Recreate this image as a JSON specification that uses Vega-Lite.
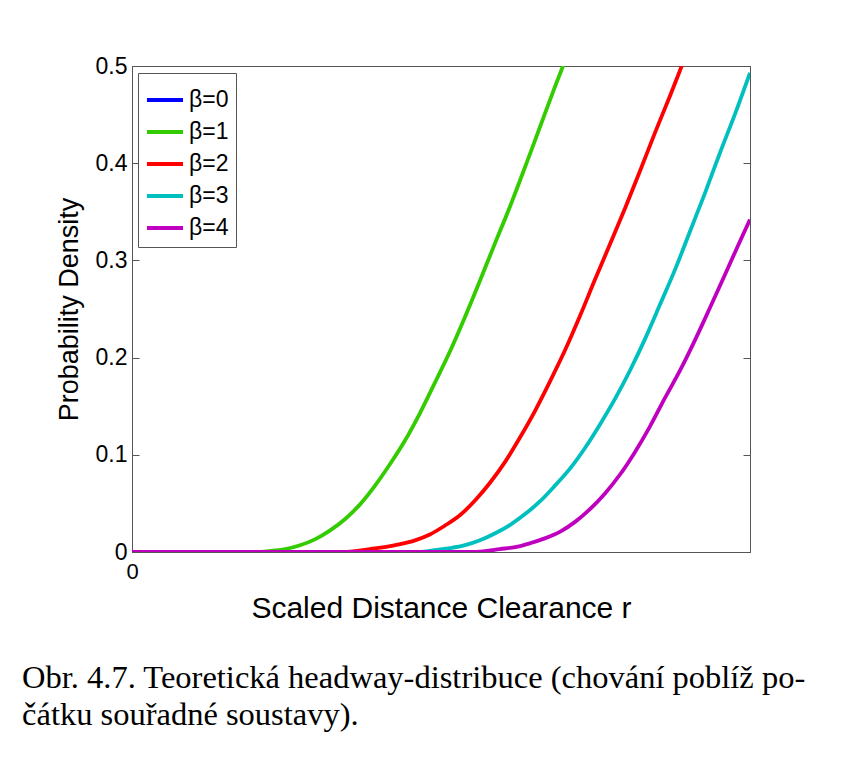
{
  "$schema": "https://vega.github.io/schema/vega-lite/v6.json",
  "width": 618,
  "height": 486,
  "autosize": {"type": "none"},
  "padding": {"left": 132, "top": 66, "right": 97, "bottom": 206},
  "background": "white",
  "config": {
    "view": {"stroke": "#555555", "strokeWidth": 1},
    "font": "Liberation Sans",
    "axis": {"domainColor": "#555555", "tickColor": "#555555", "labelColor": "black", "titleColor": "black", "grid": false}
  },
  "title": {
    "text": ["Obr. 4.7. Teoretická headway-distribuce (chování poblíž po-", "čátku souřadné soustavy)."],
    "orient": "bottom",
    "anchor": "start",
    "dx": -33,
    "offset": 39,
    "font": "Liberation Serif",
    "fontSize": 32.5,
    "fontWeight": "normal",
    "lineHeight": 37,
    "color": "black"
  },
  "data": {
    "values": [
      {"r": 0.000, "p": 0, "beta": "β=1"},
      {"r": 0.150, "p": 0, "beta": "β=1"},
      {"r": 0.199, "p": 0.000, "beta": "β=1"},
      {"r": 0.223, "p": 0.001, "beta": "β=1"},
      {"r": 0.248, "p": 0.003, "beta": "β=1"},
      {"r": 0.272, "p": 0.007, "beta": "β=1"},
      {"r": 0.296, "p": 0.013, "beta": "β=1"},
      {"r": 0.320, "p": 0.022, "beta": "β=1"},
      {"r": 0.345, "p": 0.034, "beta": "β=1"},
      {"r": 0.369, "p": 0.049, "beta": "β=1"},
      {"r": 0.393, "p": 0.068, "beta": "β=1"},
      {"r": 0.417, "p": 0.090, "beta": "β=1"},
      {"r": 0.442, "p": 0.115, "beta": "β=1"},
      {"r": 0.466, "p": 0.143, "beta": "β=1"},
      {"r": 0.490, "p": 0.174, "beta": "β=1"},
      {"r": 0.515, "p": 0.207, "beta": "β=1"},
      {"r": 0.539, "p": 0.242, "beta": "β=1"},
      {"r": 0.563, "p": 0.279, "beta": "β=1"},
      {"r": 0.587, "p": 0.317, "beta": "β=1"},
      {"r": 0.612, "p": 0.356, "beta": "β=1"},
      {"r": 0.636, "p": 0.396, "beta": "β=1"},
      {"r": 0.660, "p": 0.437, "beta": "β=1"},
      {"r": 0.684, "p": 0.478, "beta": "β=1"},
      {"r": 0.709, "p": 0.519, "beta": "β=1"},
      {"r": 0.733, "p": 0.560, "beta": "β=1"},

      {"r": 0.000, "p": 0, "beta": "β=2"},
      {"r": 0.250, "p": 0, "beta": "β=2"},
      {"r": 0.337, "p": 0.000, "beta": "β=2"},
      {"r": 0.361, "p": 0.001, "beta": "β=2"},
      {"r": 0.385, "p": 0.003, "beta": "β=2"},
      {"r": 0.409, "p": 0.005, "beta": "β=2"},
      {"r": 0.434, "p": 0.008, "beta": "β=2"},
      {"r": 0.458, "p": 0.012, "beta": "β=2"},
      {"r": 0.482, "p": 0.018, "beta": "β=2"},
      {"r": 0.506, "p": 0.027, "beta": "β=2"},
      {"r": 0.531, "p": 0.038, "beta": "β=2"},
      {"r": 0.555, "p": 0.053, "beta": "β=2"},
      {"r": 0.579, "p": 0.071, "beta": "β=2"},
      {"r": 0.604, "p": 0.093, "beta": "β=2"},
      {"r": 0.628, "p": 0.118, "beta": "β=2"},
      {"r": 0.652, "p": 0.145, "beta": "β=2"},
      {"r": 0.676, "p": 0.175, "beta": "β=2"},
      {"r": 0.701, "p": 0.208, "beta": "β=2"},
      {"r": 0.725, "p": 0.243, "beta": "β=2"},
      {"r": 0.749, "p": 0.280, "beta": "β=2"},
      {"r": 0.773, "p": 0.316, "beta": "β=2"},
      {"r": 0.798, "p": 0.354, "beta": "β=2"},
      {"r": 0.822, "p": 0.392, "beta": "β=2"},
      {"r": 0.846, "p": 0.431, "beta": "β=2"},
      {"r": 0.871, "p": 0.470, "beta": "β=2"},
      {"r": 0.895, "p": 0.509, "beta": "β=2"},
      {"r": 0.919, "p": 0.548, "beta": "β=2"},

      {"r": 0.000, "p": 0, "beta": "β=3"},
      {"r": 0.350, "p": 0, "beta": "β=3"},
      {"r": 0.466, "p": 0.000, "beta": "β=3"},
      {"r": 0.490, "p": 0.002, "beta": "β=3"},
      {"r": 0.515, "p": 0.004, "beta": "β=3"},
      {"r": 0.539, "p": 0.007, "beta": "β=3"},
      {"r": 0.563, "p": 0.012, "beta": "β=3"},
      {"r": 0.587, "p": 0.019, "beta": "β=3"},
      {"r": 0.612, "p": 0.028, "beta": "β=3"},
      {"r": 0.636, "p": 0.039, "beta": "β=3"},
      {"r": 0.660, "p": 0.052, "beta": "β=3"},
      {"r": 0.684, "p": 0.068, "beta": "β=3"},
      {"r": 0.709, "p": 0.086, "beta": "β=3"},
      {"r": 0.733, "p": 0.107, "beta": "β=3"},
      {"r": 0.757, "p": 0.131, "beta": "β=3"},
      {"r": 0.782, "p": 0.158, "beta": "β=3"},
      {"r": 0.806, "p": 0.187, "beta": "β=3"},
      {"r": 0.830, "p": 0.219, "beta": "β=3"},
      {"r": 0.854, "p": 0.254, "beta": "β=3"},
      {"r": 0.879, "p": 0.291, "beta": "β=3"},
      {"r": 0.903, "p": 0.330, "beta": "β=3"},
      {"r": 0.927, "p": 0.369, "beta": "β=3"},
      {"r": 0.951, "p": 0.410, "beta": "β=3"},
      {"r": 0.976, "p": 0.451, "beta": "β=3"},
      {"r": 1.000, "p": 0.493, "beta": "β=3"},

      {"r": 0.000, "p": 0, "beta": "β=4"},
      {"r": 0.450, "p": 0, "beta": "β=4"},
      {"r": 0.547, "p": 0.000, "beta": "β=4"},
      {"r": 0.571, "p": 0.001, "beta": "β=4"},
      {"r": 0.595, "p": 0.003, "beta": "β=4"},
      {"r": 0.620, "p": 0.005, "beta": "β=4"},
      {"r": 0.644, "p": 0.009, "beta": "β=4"},
      {"r": 0.668, "p": 0.014, "beta": "β=4"},
      {"r": 0.693, "p": 0.021, "beta": "β=4"},
      {"r": 0.717, "p": 0.031, "beta": "β=4"},
      {"r": 0.741, "p": 0.044, "beta": "β=4"},
      {"r": 0.765, "p": 0.060, "beta": "β=4"},
      {"r": 0.790, "p": 0.080, "beta": "β=4"},
      {"r": 0.814, "p": 0.103, "beta": "β=4"},
      {"r": 0.838, "p": 0.129, "beta": "β=4"},
      {"r": 0.862, "p": 0.158, "beta": "β=4"},
      {"r": 0.887, "p": 0.187, "beta": "β=4"},
      {"r": 0.911, "p": 0.218, "beta": "β=4"},
      {"r": 0.935, "p": 0.251, "beta": "β=4"},
      {"r": 0.960, "p": 0.286, "beta": "β=4"},
      {"r": 0.984, "p": 0.320, "beta": "β=4"},
      {"r": 1.000, "p": 0.342, "beta": "β=4"}
    ]
  },
  "layer": [
    {
      "mark": {"type": "line", "strokeWidth": 3.8, "clip": true, "interpolate": "monotone"},
      "encoding": {
        "x": {
          "field": "r", "type": "quantitative",
          "scale": {"domain": [0, 1], "nice": false, "zero": false},
          "axis": {
            "title": "Scaled Distance Clearance r",
            "titleFontSize": 30, "titleFontWeight": "normal", "titlePadding": 11,
            "values": [0], "format": "~g", "labelFontSize": 22, "labelPadding": 9,
            "ticks": false, "labelFlush": false
          }
        },
        "y": {
          "field": "p", "type": "quantitative",
          "scale": {"domain": [0, 0.5], "nice": false, "zero": false},
          "axis": {
            "title": "Probability Density",
            "titleFontSize": 27, "titleFontWeight": "normal", "titlePadding": 12,
            "values": [0, 0.1, 0.2, 0.3, 0.4, 0.5], "format": "~g",
            "labelFontSize": 23, "tickSize": -7, "labelPadding": 12, "labelFlush": false
          }
        },
        "color": {
          "field": "beta", "type": "nominal",
          "scale": {"domain": ["β=0", "β=1", "β=2", "β=3", "β=4"], "range": ["#0000ff", "#33cc00", "#ff0000", "#00bfbf", "#bf00bf"]},
          "legend": {
            "title": null, "orient": "none", "legendX": 6, "legendY": 7,
            "symbolType": "stroke", "symbolSize": 1300, "symbolStrokeWidth": 3.8,
            "labelFontSize": 23, "labelFont": "Liberation Sans", "labelColor": "black",
            "strokeColor": "#555555", "fillColor": "white", "padding": 7, "rowPadding": 0,
            "labelOffset": 4
          }
        }
      }
    },
    {
      "mark": {"type": "line", "opacity": 0},
      "encoding": {
        "x": {"field": "r", "type": "quantitative", "scale": {"domain": [0, 1], "nice": false, "zero": false}},
        "y": {
          "field": "p", "type": "quantitative",
          "scale": {"domain": [0, 0.5], "nice": false, "zero": false},
          "axis": {"orient": "right", "title": null, "labels": false, "values": [0, 0.1, 0.2, 0.3, 0.4, 0.5], "tickSize": -7}
        }
      }
    }
  ],
  "resolve": {"axis": {"y": "independent"}}
}
